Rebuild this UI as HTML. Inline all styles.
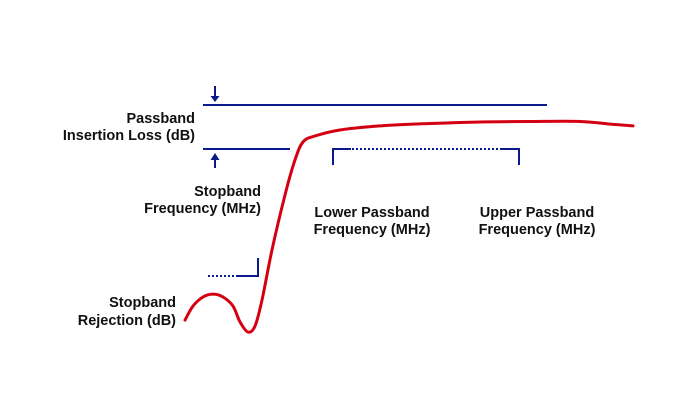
<!DOCTYPE html>
<html><head><meta charset="utf-8"><style>
html,body{margin:0;padding:0;background:#fff;width:700px;height:400px;overflow:hidden}
svg{display:block}
text{font-family:"Liberation Sans",Arial,sans-serif;font-weight:bold;font-size:14.5px;fill:#111}
</style></head><body>
<svg id="chart" width="700" height="400" viewBox="0 0 700 400">
<g stroke="#0a1a8c" stroke-width="2" fill="none">
<line x1="203" y1="105" x2="547" y2="105"/>
<line x1="203" y1="149" x2="290" y2="149"/>
<line x1="215" y1="86" x2="215" y2="98"/>
<line x1="215" y1="158" x2="215" y2="168"/>
</g>
<polygon points="210.5,96 219.5,96 215,102" fill="#0a1a8c"/>
<polygon points="210.5,160 219.5,160 215,153" fill="#0a1a8c"/>
<g stroke="#0a1a8c" stroke-width="2" fill="none">
<polyline points="333,165 333,149 351,149"/>
<line x1="352" y1="149" x2="500" y2="149" stroke-dasharray="2,2"/>
<polyline points="500,149 519,149 519,165"/>
</g>
<g stroke="#0a1a8c" stroke-width="2" fill="none">
<line x1="208" y1="276" x2="236" y2="276" stroke-dasharray="2,2"/>
<polyline points="236,276 258,276 258,258"/>
</g>
<path id="curve" fill="none" stroke="#d40012" stroke-width="3" stroke-linejoin="round" stroke-linecap="round"/>
<text x="195" y="123" text-anchor="end">Passband</text>
<text x="195" y="140" text-anchor="end">Insertion Loss (dB)</text>
<text x="261" y="196" text-anchor="end">Stopband</text>
<text x="261" y="213" text-anchor="end">Frequency (MHz)</text>
<text x="372" y="217" text-anchor="middle">Lower Passband</text>
<text x="372" y="234" text-anchor="middle">Frequency (MHz)</text>
<text x="537" y="217" text-anchor="middle">Upper Passband</text>
<text x="537" y="234" text-anchor="middle">Frequency (MHz)</text>
<text x="176" y="307" text-anchor="end">Stopband</text>
<text x="176" y="325" text-anchor="end">Rejection (dB)</text>
</svg>
<script>
// frequency (arbitrary units) and response (dB, relative)
const freqs = [0, 8, 18, 28, 38, 48, 55, 63, 70, 77, 87, 100, 110, 118, 130, 155, 195, 245, 295, 345, 395, 425, 448];
const response = [-70, -64.6, -61.1, -60, -61.1, -64.6, -70.7, -74.6, -72.3, -62.3, -43, -21.9, -8.4, -1.5, 0.8, 3.1, 4.7, 5.6, 6.2, 6.4, 6.4, 5.4, 4.7];
function xScale(f){ return 185 + f; }
function yScale(db){ return 142 - (db + 1.5) * 2.6; }
const pts = freqs.map((f,i)=>[xScale(f), yScale(response[i])]);
let s = 'M' + pts[0][0].toFixed(1) + ',' + pts[0][1].toFixed(1);
for (let i=0;i<pts.length-1;i++){
  const p0=pts[i-1]||pts[i], p1=pts[i], p2=pts[i+1], p3=pts[i+2]||p2;
  const c1=[p1[0]+(p2[0]-p0[0])/6, p1[1]+(p2[1]-p0[1])/6];
  const c2=[p2[0]-(p3[0]-p1[0])/6, p2[1]-(p3[1]-p1[1])/6];
  s += ' C'+c1[0].toFixed(1)+','+c1[1].toFixed(1)+' '+c2[0].toFixed(1)+','+c2[1].toFixed(1)+' '+p2[0].toFixed(1)+','+p2[1].toFixed(1);
}
document.getElementById('curve').setAttribute('d', s);
</script>
</body></html>
